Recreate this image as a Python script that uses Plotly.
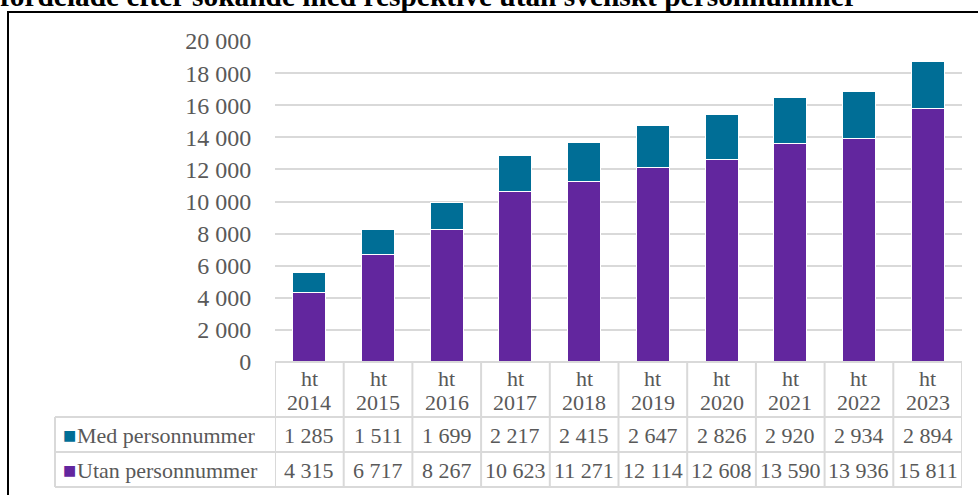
import plotly.graph_objects as go

years = ["ht 2014", "ht 2015", "ht 2016", "ht 2017", "ht 2018",
         "ht 2019", "ht 2020", "ht 2021", "ht 2022", "ht 2023"]
med = [1285, 1511, 1699, 2217, 2415, 2647, 2826, 2920, 2934, 2894]
utan = [4315, 6717, 8267, 10623, 11271, 12114, 12608, 13590, 13936, 15811]

title_text = "fördelade efter sökande med respektive utan svenskt personnummer"
teal = "#006E96"
purple = "#62269E"
grey = "#595959"
line_col = "#d9d9d9"
serif = "Liberation Serif"

W, H = 978, 495
L, R, T, B = 275, 16, 41, 133
pw, ph = W - L - R, H - T - B


# pixel -> paper helpers
def px(x):
    return (x - L) / pw


def py(y):
    return (H - B - y) / ph


def fmt(v):
    return f"{v:,}".replace(",", " ")


fig = go.Figure()
fig.add_trace(go.Bar(x=years, y=utan, name="Utan personnummer",
                     marker=dict(color=purple, line=dict(color="white", width=1))))
fig.add_trace(go.Bar(x=years, y=med, name="Med personnummer",
                     marker=dict(color=teal, line=dict(color="white", width=1))))

shapes = []
annotations = []

# outer frame
shapes.append(dict(type="rect", xref="paper", yref="paper",
                   x0=px(8), x1=px(1000), y0=py(12), y1=py(510),
                   line=dict(color="black", width=2), layer="below"))

# data table lines
for i in range(len(years) + 1):
    shapes.append(dict(type="line", xref="x", yref="paper",
                       x0=i - 0.5, x1=i - 0.5, y0=py(362), y1=py(487),
                       line=dict(color=line_col, width=2)))
shapes.append(dict(type="line", xref="paper", yref="paper",
                   x0=px(55), x1=px(55), y0=py(417), y1=py(487),
                   line=dict(color=line_col, width=2)))
shapes.append(dict(type="line", xref="paper", yref="paper",
                   x0=0, x1=1, y0=py(362), y1=py(362),
                   line=dict(color=line_col, width=2)))
for yy in [417, 452, 487]:
    shapes.append(dict(type="line", xref="paper", yref="paper",
                       x0=px(55), x1=1, y0=py(yy), y1=py(yy),
                       line=dict(color=line_col, width=2)))

tfont = dict(family=serif, size=22, color=grey)

# table text
for i, yr in enumerate(years):
    top, bottom = yr.split(" ")
    annotations.append(dict(xref="x", yref="paper", x=yr, y=py(378), yanchor="middle",
                            text=top, showarrow=False, font=tfont))
    annotations.append(dict(xref="x", yref="paper", x=yr, y=py(402), yanchor="middle",
                            text=bottom, showarrow=False, font=tfont))
    annotations.append(dict(xref="x", yref="paper", x=yr, y=py(435), yanchor="middle",
                            text=fmt(med[i]), showarrow=False, font=tfont))
    annotations.append(dict(xref="x", yref="paper", x=yr, y=py(470), yanchor="middle",
                            text=fmt(utan[i]), showarrow=False, font=tfont))

# legend rows
for label, col, yy in [("Med personnummer", teal, 435), ("Utan personnummer", purple, 470)]:
    annotations.append(dict(xref="paper", yref="paper", x=px(61), y=py(yy),
                            xanchor="left", yanchor="middle", text="■", showarrow=False,
                            font=dict(family="DejaVu Sans", size=14, color=col)))
    annotations.append(dict(xref="paper", yref="paper", x=px(75), y=py(yy),
                            xanchor="left", yanchor="middle", text=label, showarrow=False,
                            font=tfont))

# cut-off title
annotations.append(dict(xref="paper", yref="paper", x=px(-2), y=py(7),
                        xanchor="left", yanchor="bottom", yshift=-7,
                        text=title_text, showarrow=False,
                        font=dict(family=serif, size=29.4, color="black", weight="bold")))

fig.update_layout(
    width=W, height=H,
    margin=dict(l=L, r=R, t=T, b=B),
    barmode="stack", bargap=0.52,
    showlegend=False,
    plot_bgcolor="white", paper_bgcolor="white",
    separators=", ",
    shapes=shapes, annotations=annotations,
    xaxis=dict(showticklabels=False, showgrid=False, zeroline=False,
               range=[-0.5, 9.5]),
    yaxis=dict(range=[0, 20000], dtick=2000, tickformat=",d",
               showgrid=True, gridcolor=line_col, gridwidth=2,
               zeroline=False, ticks="outside", ticklen=18,
               tickcolor="rgba(0,0,0,0)",
               tickfont=dict(family=serif, size=24, color=grey)),
)

fig.write_html("out.html", config={"displayModeBar": False},
               post_script="document.body.style.margin='0px';")
